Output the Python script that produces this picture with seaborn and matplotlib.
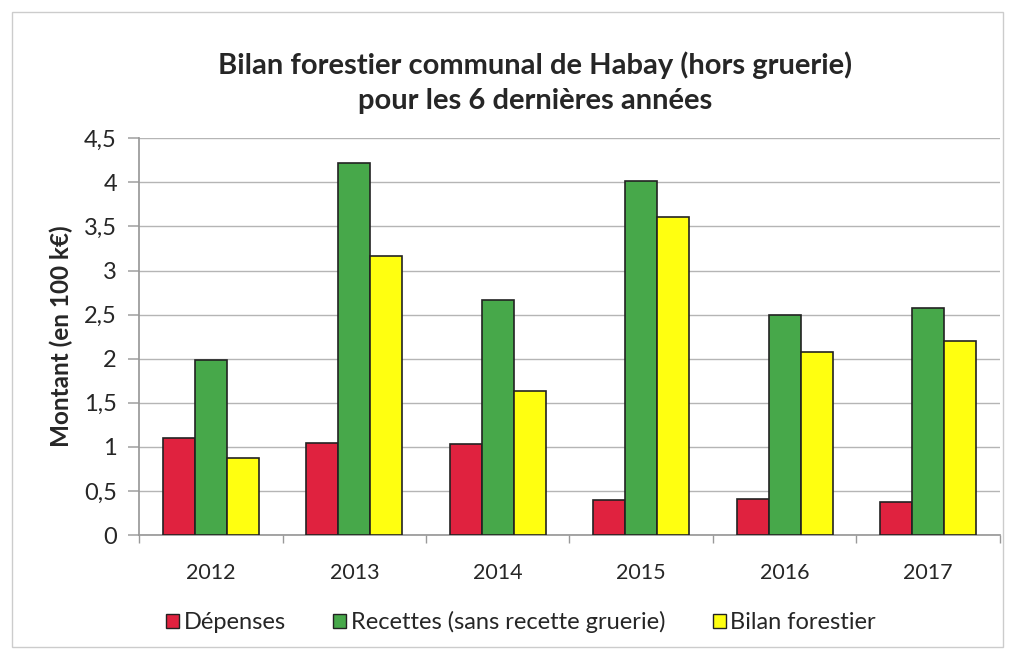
import matplotlib.pyplot as plt
import matplotlib.patches as mpatches
import pandas as pd
import seaborn as sns

# data (in 100 k€)
years = ["2012", "2013", "2014", "2015", "2016", "2017"]
depenses = [1.10, 1.04, 1.03, 0.40, 0.41, 0.37]
recettes = [1.98, 4.22, 2.67, 4.01, 2.50, 2.58]
bilan = [0.88, 3.17, 1.63, 3.61, 2.08, 2.20]
series = ["Dépenses", "Recettes (sans recette gruerie)", "Bilan forestier"]
colors = ["#E0223F", "#47A84A", "#FFFF10"]
yticks = [0, 0.5, 1, 1.5, 2, 2.5, 3, 3.5, 4, 4.5]

df = pd.DataFrame({
    "year": years * 3,
    "value": depenses + recettes + bilan,
    "serie": [series[0]] * 6 + [series[1]] * 6 + [series[2]] * 6,
})

sns.set_theme(style="white")
plt.rcParams["font.family"] = ["Lato", "DejaVu Sans"]

fig = plt.figure(figsize=(10.16, 6.55), dpi=100)
ax = fig.add_axes([0.137, 0.183, 0.847, 0.606])

g = sns.barplot(data=df, x="year", y="value", hue="serie", palette=colors,
                width=0.67, edgecolor="#222222", linewidth=1.2, ax=ax,
                saturation=1, zorder=3)

ax.set_ylim(0, 4.5)
ax.set_yticks(yticks)
ax.set_yticklabels([str(t).replace(".", ",").replace(",0", "") for t in yticks])
ax.yaxis.grid(True, color="#b5b5b5", linewidth=1, zorder=0)
ax.set_axisbelow(True)
ax.tick_params(axis="y", labelsize=17, length=8, color="#aaaaaa", left=True, pad=8)
ax.tick_params(axis="x", labelsize=15.5, length=0, pad=20)
ax.set_xticks([i + 0.5 for i in range(-1, 6)], minor=True)
ax.tick_params(axis="x", which="minor", length=6, color="#999999", bottom=True)

for s in ["top", "right"]:
    ax.spines[s].set_visible(False)
for s in ["left", "bottom"]:
    ax.spines[s].set_color("#999999")

ax.set_xlabel("")
ax.set_ylabel("Montant (en 100 k€)", fontsize=17.5, fontweight="bold", labelpad=8)

fig.suptitle("Bilan forestier communal de Habay (hors gruerie)\npour les 6 dernières années",
             fontsize=21, fontweight="bold", x=0.527, y=0.922, linespacing=1.45)

handles = [mpatches.Patch(facecolor=c, edgecolor="#222222", label=s) for c, s in zip(colors, series)]
ax.get_legend().remove()
fig.legend(handles=handles, loc="center", bbox_to_anchor=(0.513, 0.05), ncol=3,
           frameon=False, fontsize=17, handlelength=0.55, handleheight=0.55,
           handletextpad=0.2, columnspacing=2.0)

# thin frame around the whole chart
fig.patches.append(mpatches.Rectangle((0.012, 0.012), 0.975, 0.97, transform=fig.transFigure,
                                      fill=False, edgecolor="#cccccc", linewidth=1))

plt.savefig("out.png", dpi=100)
